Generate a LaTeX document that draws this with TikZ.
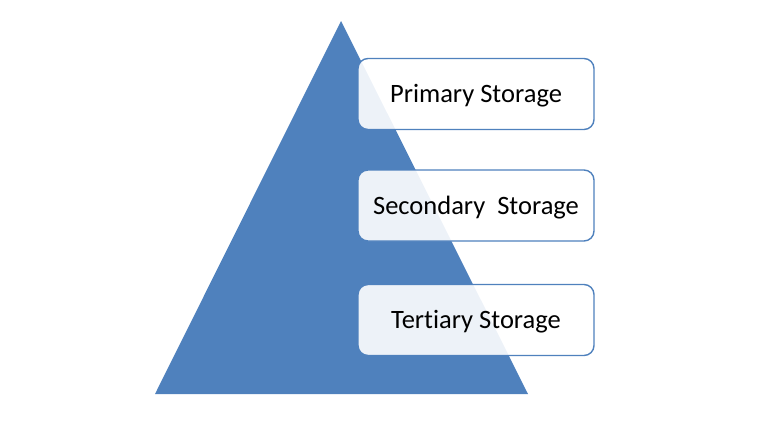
\documentclass[tikz,border=0pt]{standalone}
\usepackage{fontspec}
\setmainfont{Carlito}[Ligatures=NoCommon]
\usetikzlibrary{positioning}
\definecolor{tierblue}{HTML}{4F81BD}
\tikzset{
  tier/.style={draw=tierblue, line width=1.4pt, rounded corners=10pt, fill=white, fill opacity=0.9, text opacity=1, minimum width=236pt, minimum height=71pt, text depth=1.3pt, font=\fontsize{26.5}{30}\selectfont}
}
\begin{document}
\begin{tikzpicture}[x=1pt,y=-1pt]
    \useasboundingbox (0,0) rectangle (766,424);
    \fill[tierblue] (155,394) coordinate (bl) -- (528,394) coordinate (br) -- (341,21) coordinate (apex) -- cycle;
    \node[tier] (primary) at (476,94) {Primary Storage};
    \node[tier] (secondary) at (476,205.5) {Secondary\ \ Storage};
    \node[tier] (tertiary) at (476,320) {Tertiary Storage};
  \end{tikzpicture}
\end{document}
